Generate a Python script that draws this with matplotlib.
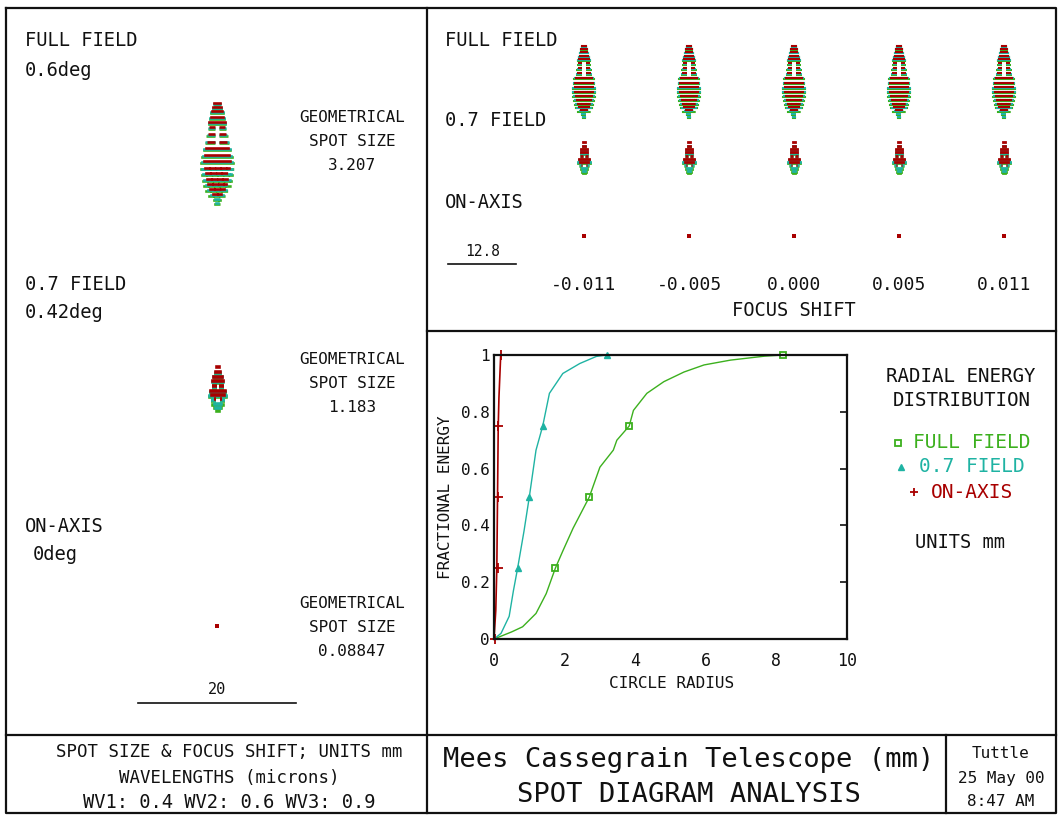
import numpy as np
import matplotlib
matplotlib.use("Agg")
import matplotlib.pyplot as plt

plt.rcParams['font.family'] = ['DejaVu Sans Mono']

# ------------------------------------------------------------
# Data
# ------------------------------------------------------------
# radial energy distribution (circle radius in mm, fractional energy)
full_r = [0, 0.2, 0.5, 0.81, 1.19, 1.48, 1.74, 1.95, 2.24, 2.7, 3.0, 3.38, 3.48,
          3.83, 3.95, 4.33, 4.81, 5.38, 5.95, 6.7, 7.67, 8.19]
full_e = [0, 0.01, 0.025, 0.043, 0.09, 0.16, 0.25, 0.31, 0.39, 0.5, 0.605, 0.665, 0.70,
          0.75, 0.805, 0.865, 0.906, 0.94, 0.965, 0.982, 0.996, 1.0]
field07_r = [0, 0.2, 0.43, 0.55, 0.67, 0.85, 1.0, 1.19, 1.38, 1.57, 1.95, 2.43, 2.9, 3.19]
field07_e = [0, 0.02, 0.08, 0.17, 0.25, 0.38, 0.5, 0.665, 0.75, 0.865, 0.935, 0.97, 0.995, 1.0]
axis_r = [0, 0.05, 0.08, 0.1, 0.12, 0.14, 0.19]
axis_e = [0, 0.1, 0.25, 0.5, 0.75, 0.85, 1.0]

full_mk_r = [1.74, 2.7, 3.83, 8.19]
full_mk_e = [0.25, 0.5, 0.75, 1.0]
field07_mk_r = [0.67, 1.0, 1.38, 3.19]
field07_mk_e = [0.25, 0.5, 0.75, 1.0]
axis_mk_r = [0.02, 0.1, 0.1, 0.12, 0.19]
axis_mk_e = [0, 0.25, 0.5, 0.75, 1.0]

# spot shapes (microns): row depth from top of spot, half widths per wavelength
full_dy = [0, 0.4, 0.9, 1.5, 2.2, 2.8, 3.5, 4.4, 5.3, 6.1, 7.0, 7.8, 8.6, 9.3, 10.0,
           10.7, 11.3, 11.9, 12.5, 13.0]
full_red = [0.06, 0.38, 0.5, 0.6, 0.8, 0.95, 1.05, 1.15, 1.3, 1.45, 1.55, 1.6, 1.55,
            1.45, 1.3, 1.1, 0.9, 0.5, 0, 0]
full_green = [0, 0.3, 0.55, 0.7, 0.9, 1.05, 1.2, 1.35, 1.5, 1.7, 1.85, 2.0, 2.0, 1.9,
              1.75, 1.6, 1.35, 1.0, 0.4, 0.25]
full_cyan = [0, 0.35, 0.55, 0.7, 0.9, 1.0, 1.15, 1.3, 1.5, 1.65, 1.8, 1.95, 1.95,
             1.8, 1.65, 1.45, 1.2, 0.8, 0.3, 0.15]
full_hole = [0, 0, 0, 0, 0, 0, 0.3, 0.3, 0.3, 0, 0, 0, 0, 0, 0, 0, 0, 0, 0, 0]

f07_dy = [0, 0.6, 1.2, 1.8, 2.4, 3.0, 3.5, 4.0, 4.5, 5.0, 5.3]
f07_red = [0.13, 0.25, 0.45, 0.6, 0.72, 0.85, 0.8, 0.5, 0, 0, 0]
f07_green = [0, 0.2, 0.4, 0.55, 0.7, 0.85, 1.0, 0.9, 0.6, 0.35, 0.12]
f07_cyan = [0, 0.2, 0.45, 0.6, 0.75, 0.9, 1.0, 0.85, 0.4, 0.2, 0]
f07_hole = [0, 0, 0, 0, 0.12, 0, 0, 0.3, 0, 0, 0]

spot_sizes = ['3.207', '1.183', '0.08847']
field_names = ['FULL FIELD', '0.7 FIELD', 'ON-AXIS']
field_angles = ['0.6deg', '0.42deg', '0deg']
focus_shift = ['-0.011', '-0.005', '0.000', '0.005', '0.011']
scale_left = 20      # microns
scale_right = 12.8   # microns

RED = '#a80000'
GREEN = '#3cb01e'
CYAN = '#1fb3a3'
INK = '#111111'

W, H = 1061, 815
fig = plt.figure(figsize=(W / 100, H / 100), dpi=100)

# overlay axes in pixel units for frames and labels
ax0 = fig.add_axes([0, 0, 1, 1])
ax0.set_xlim(0, W)
ax0.set_ylim(H, 0)
ax0.axis('off')


def txt(x, y, s, size, ha='left', color=INK, **kw):
    ax0.text(x, y, s, fontsize=size, ha=ha, va='center', color=color, **kw)


# panel borders
bl = dict(color=INK, lw=1.6, solid_capstyle='projecting')
ax0.plot([6, 1056, 1056, 6, 6], [8, 8, 813, 813, 8], **bl)
ax0.plot([427, 427], [8, 813], **bl)
ax0.plot([427, 1056], [331, 331], **bl)
ax0.plot([6, 1056], [735, 735], **bl)
ax0.plot([946, 946], [735, 813], **bl)


def spot_axes(cx, cy, scale, w=120, h=150):
    a = fig.add_axes([(cx - w / 2) / W, 1 - (cy + h / 2) / H, w / W, h / H])
    a.set_xlim(-w / 2 / scale, w / 2 / scale)
    a.set_ylim(h / 2 / scale, -h / 2 / scale)
    a.axis('off')
    return a


def draw_spot(a, dy, red, green, cyan, hole, lw, dash_from):
    dy = np.array(dy, dtype=float)
    mid = (dy[0] + dy[-1]) / 2
    for hws, col, off in [(green, GREEN, 0.24), (cyan, CYAN, 0.12), (red, RED, 0.0)]:
        for d, hw, g in zip(dy, hws, hole):
            if hw <= 0:
                continue
            y = d - mid + off
            ls = '-' if d < dash_from else (0, (1.4, 0.7))
            if g > 0 and hw > g:
                a.hlines([y, y], [-hw, g], [-g, hw], colors=col, lw=lw, linestyles=ls,
                         capstyle='butt')
            else:
                a.hlines(y, -hw, hw, colors=col, lw=lw, linestyles=ls, capstyle='projecting')


def draw_axis_spot(a, ms):
    a.plot([0], [0], 's', color=RED, ms=ms, mew=0)


# ------------------------------------------------------------
# Left panel: spot diagrams
# ------------------------------------------------------------
s_left = 7.9  # px per micron
a = spot_axes(217, 151, s_left)
draw_spot(a, full_dy, full_red, full_green, full_cyan, full_hole, 1.9, 8.0)
a = spot_axes(218, 388, s_left)
draw_spot(a, f07_dy, f07_red, f07_green, f07_cyan, f07_hole, 2.6, 9.0)
a = spot_axes(217, 626, s_left)
draw_axis_spot(a, 2.5)

left_y = [(41, 70), (285, 313), (527, 555)]
geo_y = [117, 360, 604]
for name, ang, (y1, y2), gy, ss in zip(field_names, field_angles, left_y, geo_y, spot_sizes):
    txt(25, y1, name, 13.5)
    txt(25 if ang != '0deg' else 33, y2, ang, 13.5)
    txt(352, gy, 'GEOMETRICAL', 11.5, ha='center')
    txt(352, gy + 24, 'SPOT SIZE', 11.5, ha='center')
    txt(352, gy + 48, ss, 11.5, ha='center')

# scale bar
ax0.plot([217 - scale_left / 2 * s_left, 217 + scale_left / 2 * s_left], [703, 703],
         color=INK, lw=1.2)
txt(217, 690, '%g' % scale_left, 11, ha='center')

# ------------------------------------------------------------
# Top right panel: through-focus spots
# ------------------------------------------------------------
s_right = 5.6
for i, fs in enumerate(focus_shift):
    cx = 584 + 105 * i
    a = spot_axes(cx, 80, s_right, w=100, h=100)
    draw_spot(a, full_dy, full_red, full_green, full_cyan, full_hole, 1.5, 8.0)
    a = spot_axes(cx, 157, s_right, w=100, h=60)
    draw_spot(a, f07_dy, f07_red, f07_green, f07_cyan, f07_hole, 2.0, 9.0)
    a = spot_axes(cx, 236, s_right, w=40, h=40)
    draw_axis_spot(a, 2.2)
    txt(cx, 285, fs, 13, ha='center')

txt(445, 41, field_names[0], 13.5)
txt(445, 121, field_names[1], 13.5)
txt(445, 202, field_names[2], 13.5)
txt(794, 311, 'FOCUS SHIFT', 13.5, ha='center')
ax0.plot([482 - scale_right / 2 * 5.31, 482 + scale_right / 2 * 5.31], [264, 264],
         color=INK, lw=1.2)
txt(483, 252, '%g' % scale_right, 10.5, ha='center')

# ------------------------------------------------------------
# Bottom right panel: radial energy distribution
# ------------------------------------------------------------
ax = fig.add_axes([494 / W, 1 - 639 / H, 353 / W, 284 / H])
ax.plot(full_r, full_e, color=GREEN, lw=1.0)
ax.plot(field07_r, field07_e, color=CYAN, lw=1.0)
ax.plot(axis_r, axis_e, color=RED, lw=1.2)
ax.plot(full_mk_r, full_mk_e, 's', ms=4.5, mfc='none', mec=GREEN, mew=1.3, clip_on=False)
ax.plot(field07_mk_r, field07_mk_e, '^', ms=5, color=CYAN, clip_on=False)
ax.plot(axis_mk_r, axis_mk_e, '+', ms=7, mew=1.3, color=RED, clip_on=False)
ax.set_xlim(0, 10)
ax.set_ylim(0, 1)
ax.set_xticks([0, 2, 4, 6, 8, 10])
ax.set_xticklabels(['0', '2', '4', '6', '8', '10'], fontsize=12)
ax.set_yticks([0, 0.2, 0.4, 0.6, 0.8, 1])
ax.set_yticklabels(['0', '0.2', '0.4', '0.6', '0.8', '1'], fontsize=11.5)
ax.tick_params(axis='x', bottom=False, pad=6, colors=INK)
ax.tick_params(axis='y', left=False, right=True, direction='in', length=5, width=1.2,
               pad=3, colors=INK)
for sp in ax.spines.values():
    sp.set_linewidth(1.6)
    sp.set_color(INK)

txt(672, 683, 'CIRCLE RADIUS', 11.5, ha='center')
ax0.text(446, 497, 'FRACTIONAL ENERGY', fontsize=11.5, rotation=90, ha='center',
         va='center', color=INK)

# legend block
txt(961, 377, 'RADIAL ENERGY', 13.8, ha='center')
txt(962, 400, 'DISTRIBUTION', 13.8, ha='center')
ax0.plot([898], [443], 's', ms=4, mfc='none', mec=GREEN, mew=1.3)
txt(913, 443, 'FULL FIELD', 14, color=GREEN)
ax0.plot([901], [467], '^', ms=4, color=CYAN)
txt(919, 467, '0.7 FIELD', 14, color=CYAN)
ax0.plot([914], [492], '+', ms=6, mew=1.3, color=RED)
txt(931, 492, 'ON-AXIS', 14, color=RED)
txt(960, 542, 'UNITS mm', 13.5, ha='center')

# ------------------------------------------------------------
# Bottom title block
# ------------------------------------------------------------
txt(229, 752, 'SPOT SIZE & FOCUS SHIFT; UNITS mm', 12.5, ha='center')
txt(229, 778, 'WAVELENGTHS (microns)', 12.5, ha='center')
txt(229, 803, 'WV1: 0.4 WV2: 0.6 WV3: 0.9', 13.5, ha='center')
txt(689, 760, 'Mees Cassegrain Telescope (mm)', 19.5, ha='center')
txt(689, 795, 'SPOT DIAGRAM ANALYSIS', 19.5, ha='center')
txt(1001, 754, 'Tuttle', 11.5, ha='center')
txt(1001, 778, '25 May 00', 11.5, ha='center')
txt(1001, 802, '8:47 AM', 11.5, ha='center')

fig.savefig('out.png', dpi=100, facecolor='white')
